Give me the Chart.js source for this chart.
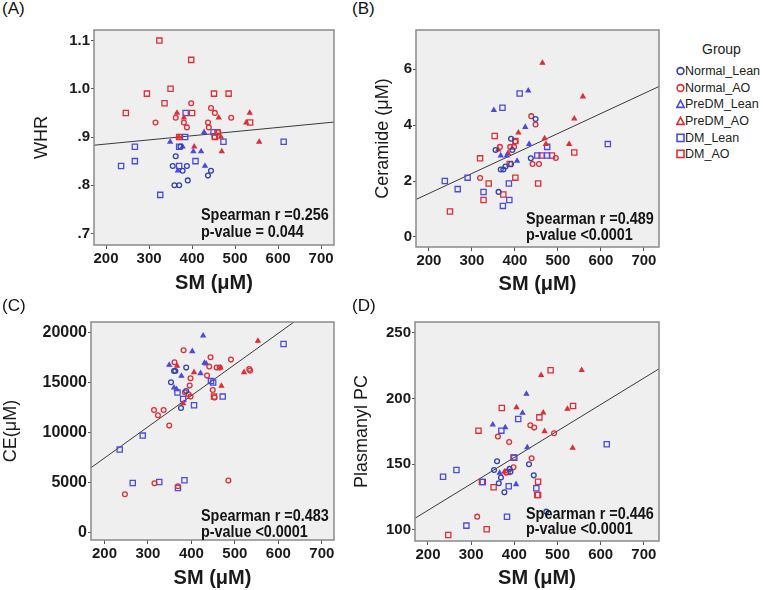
<!DOCTYPE html>
<html>
<head>
<meta charset="utf-8">
<script src="https://cdn.jsdelivr.net/npm/chart.js@4.4.1/dist/chart.umd.min.js"></script>
<style>
  body { margin: 0; background: #fff; font-family: "Liberation Sans", Arial, sans-serif; }
  #wrap { position: relative; width: 763px; height: 590px; overflow: hidden; }
  canvas { position: absolute; }
  .tag { position: absolute; font-size: 17px; color: #111; z-index: 2; }
  #legend { position: absolute; left: 676px; top: 41px; font-size: 12.5px; color: #222; }
  #legend .ttl { margin-left: 26px; margin-bottom: 6px; font-size: 14px; }
  #legend .row { height: 16.6px; display: flex; align-items: center; white-space: nowrap; }
</style>
</head>
<body>
<div id="wrap">
  <div class="tag" style="left:2px;top:-1px">(A)</div>
  <div class="tag" style="left:352px;top:-1px">(B)</div>
  <div class="tag" style="left:2px;top:296px">(C)</div>
  <div class="tag" style="left:352px;top:296px">(D)</div>
  <canvas id="cA" width="340" height="280" style="left:0;top:20px"></canvas>
  <canvas id="cB" width="330" height="280" style="left:340px;top:20px"></canvas>
  <canvas id="cC" width="340" height="285" style="left:0;top:305px"></canvas>
  <canvas id="cD" width="330" height="285" style="left:340px;top:305px"></canvas>
  <div id="legend"></div>
</div>
<script>
'use strict';

// ─── data ─────────────────────────────────────────────
const groupNames = ['Normal_Lean', 'Normal_AO', 'PreDM_Lean', 'PreDM_AO', 'DM_Lean', 'DM_AO'];
const xTicks = [200, 300, 400, 500, 600, 700];

// (A) WHR
const a_normalLean = [[373,0.88],[362,0.86],[355,0.84],[388,0.84],[378,0.83],[444,0.83],[437,0.82],[359,0.80],[370,0.80],[390,0.81]];
const a_normalAO = [[398,0.97],[315,0.93],[362,0.94],[381,0.93],[388,0.92],[444,0.96],[453,0.95],[437,0.93],[439,0.92],[491,0.94],[461,0.91],[452,0.90]];
const a_preLean = [[428,0.91],[349,0.89],[378,0.88],[403,0.87],[421,0.87],[430,0.84],[367,0.83]];
const a_preAO = [[365,0.95],[381,0.94],[462,0.94],[534,0.95],[526,0.93],[556,0.89],[405,0.88],[469,0.87],[467,0.90],[369,0.90]];
const a_dmLean = [[385,0.95],[267,0.88],[235,0.84],[267,0.85],[326,0.78],[370,0.88],[384,0.90],[370,0.84],[408,0.85],[473,0.89],[613,0.89],[450,0.91]];
const a_dmAO = [[324,1.10],[398,1.06],[295,0.99],[350,1.00],[336,0.97],[246,0.95],[400,0.95],[451,0.99],[485,0.99],[535,0.93],[459,0.91],[453,0.90],[370,0.90]];
const a_fit = [[172,0.883],[730,0.931]];
const a_ticks = [0.7, 0.8, 0.9, 1.0, 1.1];

// (B) Ceramide
const b_normalLean = [[448,4.22],[391,3.51],[355,3.11],[367,2.41],[373,2.41],[378,2.52],[391,2.61],[437,2.81],[362,1.61],[394,3.11]];
const b_normalAO = [[438,4.32],[448,4.02],[365,3.22],[389,3.22],[401,3.41],[398,3.22],[319,2.11],[441,2.61],[456,2.61],[495,2.82]];
const b_preLean = [[431,5.23],[351,4.53],[424,3.93],[433,3.32],[405,2.72],[367,2.91],[381,2.91]];
const b_preAO = [[464,6.22],[558,5.02],[538,4.23],[526,3.32],[469,3.52],[408,3.73],[472,3.32],[361,3.12],[384,3.0]];
const b_dmLean = [[411,5.13],[371,4.62],[237,2.0],[267,1.71],[290,2.12],[327,1.61],[386,1.91],[387,1.32],[372,1.11],[475,2.91],[475,3.22],[616,3.32],[452,2.91]];
const b_dmAO = [[353,3.61],[319,2.81],[339,1.91],[327,1.32],[249,0.91],[373,1.52],[401,2.12],[401,3.43],[454,1.91],[462,2.91],[486,2.91],[538,3.02],[388,2.61]];
const b_fit = [[170,1.34],[735,5.38]];
const b_ticks = [0, 2, 4, 6];

// (C) CE
const c_normalLean = [[360,16130],[363,16130],[388,16470],[353,15000],[388,14130],[376,12430]];
const c_normalAO = [[382,18200],[444,17500],[491,17270],[361,17000],[441,16570],[458,16470],[465,16470],[398,15400],[436,15670],[533,16330],[535,16170],[396,14670],[385,14000],[393,13800],[449,14230],[398,13570],[453,13470],[314,12230],[336,12230],[323,11700],[349,10670],[315,4900],[369,4600],[485,5170],[247,3800]];
const c_preLean = [[427,19670],[402,18100],[349,16730],[430,16930],[434,16870],[421,15900],[377,15630],[360,14470],[366,14300]];
const c_preAO = [[553,19130],[367,16630],[406,16000],[467,16470],[521,16000],[469,14630],[381,12900]];
const c_dmLean = [[612,18830],[445,15130],[450,14970],[368,13970],[381,13330],[472,13570],[406,12700],[288,9670],[235,8270],[265,4930],[326,5030],[384,5200],[369,4430]];
const c_dmAO = [[452,13570]];
const c_fit = [[169,6460],[728,23900]];
const c_ticks = [0, 5000, 10000, 15000, 20000];

// (D) Plasmanyl PC
const d_normalLean = [[360,152.2],[353,145.6],[389,146.4],[391,144.3],[434,149.9],[369,139.8],[445,141.5],[364,135.5],[377,128.6],[474,113.9]];
const d_normalAO = [[437,179.6],[446,177.8],[492,173.5],[362,171],[388,166.9],[440,154.5],[398,147.6],[381,143.6],[314,110.1]];
const d_preLean = [[428,203.4],[419,188.9],[350,180.1],[379,178.0],[430,162.8],[366,143.3],[404,134.7]];
const d_preAO = [[556,221.4],[462,217.6],[405,193.2],[523,192],[467,189.2],[470,175],[535,162.3],[377,144.3]];
const d_dmLean = [[409,184.4],[370,175.5],[614,165.1],[400,155],[266,145.6],[235,140.5],[327,136.5],[387,133.2],[451,131.7],[383,110.1],[289,103.3]];
const d_dmAO = [[484,221.4],[536,194.2],[371,192.7],[458,185.6],[317,175.5],[398,155],[384,144.1],[455,136.7],[325,136.5],[352,132.4],[453,126.6],[455,126.6],[336,100.5],[247,96.2]];
const d_fit = [[170,108.9],[735,222.5]];
const d_ticks = [100, 150, 200, 250];

const statsA = ['Spearman r =0.256', 'p-value = 0.044'];
const statsB = ['Spearman r =0.489', 'p-value <0.0001'];
const statsC = ['Spearman r =0.483', 'p-value <0.0001'];
const statsD = ['Spearman r =0.446', 'p-value <0.0001'];

// ─── styles ───────────────────────────────────────────
const BLUE = '#4b4be3', NAVY = '#3143ad', RED = '#dd3036';
const groupStyle = [
  { shape: 'circle',   color: NAVY, r: 2.4 },
  { shape: 'circle',   color: RED,  r: 2.4 },
  { shape: 'triangle', color: BLUE, r: 2.4 },
  { shape: 'triangle', color: RED,  r: 2.4 },
  { shape: 'rect',     color: BLUE, r: 3.7 },
  { shape: 'rect',     color: RED,  r: 3.7 },
];

Chart.defaults.font.family = '"Liberation Sans", Arial, sans-serif';

// grey plot area, frame and the Spearman note
const frame = {
  id: 'frame',
  beforeDraw(chart) {
    const { ctx, chartArea: a } = chart;
    ctx.save();
    ctx.fillStyle = '#efefef';
    ctx.fillRect(a.left, a.top, a.width, a.height);
    ctx.restore();
  },
  afterDraw(chart, args, opts) {
    const { ctx, chartArea: a } = chart;
    ctx.save();
    ctx.strokeStyle = '#8a8a8a';
    ctx.lineWidth = 1.5;
    ctx.strokeRect(a.left, a.top, a.width, a.height);
    ctx.fillStyle = '#141414';
    ctx.font = 'bold 16px "Liberation Sans", Arial, sans-serif';
    ctx.textBaseline = 'middle';
    ctx.translate(a.right - 133, 0);
    ctx.scale(0.9, 1);
    opts.lines.forEach((t, i) => ctx.fillText(t, 0, a.bottom - opts.dy[i]));
    ctx.restore();
  }
};
Chart.register(frame);

const toXY = (pts) => pts.map(([x, y]) => ({ x, y }));

function makePanel(id, p) {
  const sets = p.groups.map((pts, i) => {
    const st = groupStyle[i];
    return {
      type: 'scatter',
      label: groupNames[i],
      data: toXY(pts),
      pointStyle: st.shape,
      pointRadius: st.r,
      borderColor: st.color,
      backgroundColor: st.shape === 'triangle' ? st.color : 'rgba(0,0,0,0)',
      borderWidth: 1.3,
    };
  });
  sets.push({
    type: 'line', data: toXY(p.fit), borderColor: '#3a3a3a', borderWidth: 1,
    pointRadius: 0, fill: false, order: 1,
  });

  return new Chart(document.getElementById(id), {
    type: 'scatter',
    data: { datasets: sets },
    options: {
      responsive: false,
      animation: false,
      layout: { padding: p.pad },
      plugins: {
        legend: { display: false },
        tooltip: { enabled: false },
        frame: { lines: p.stats, dy: p.statsDy },
      },
      scales: {
        x: {
          type: 'linear', min: p.xMin, max: p.xMax, bounds: 'data',
          afterBuildTicks: s => { s.ticks = xTicks.map(v => ({ value: v })); },
          afterFit: s => { s.height = p.xh; },
          grid: { drawOnChartArea: false, tickLength: 4, color: '#555' },
          border: { display: false },
          ticks: { font: { size: 15, weight: 'bold' }, color: '#1a1a1a', padding: 1, maxRotation: 0 },
          title: { display: true, text: 'SM (μM)', font: { size: 20, weight: 'bold' }, color: '#1a1a1a',
                   padding: { top: 0, bottom: p.xtPad } },
        },
        y: {
          type: 'linear', min: p.yMin, max: p.yMax, bounds: 'data',
          afterBuildTicks: s => { s.ticks = p.yTicks.map(v => ({ value: v })); },
          afterFit: s => { s.width = p.yw; },
          grid: { drawOnChartArea: false, tickLength: 3, color: '#555' },
          border: { display: false },
          ticks: { font: { size: p.ytSize || 15, weight: 'bold' }, color: '#1a1a1a', padding: 1,
                   callback: p.yFmt || (v => v) },
          title: { display: true, text: p.yTitle, font: { size: 18 }, color: '#1a1a1a',
                   padding: { top: p.ytPad, bottom: 0 } },
        },
      },
    },
  });
}

makePanel('cA', {
  groups: [a_normalLean, a_normalAO, a_preLean, a_preAO, a_dmLean, a_dmAO], fit: a_fit,
  xMin: 172, xMax: 730, yMin: 0.676, yMax: 1.122, yTicks: a_ticks,
  yFmt: v => v >= 1 ? v.toFixed(1) : v.toFixed(1).slice(1),
  yTitle: 'WHR', ytPad: 31, yw: 94, xh: 55, xtPad: 5,
  pad: { top: 5, right: 6, left: 0, bottom: 0 },
  stats: statsA, statsDy: [29, 12],
});

makePanel('cB', {
  groups: [b_normalLean, b_normalAO, b_preLean, b_preAO, b_dmLean, b_dmAO], fit: b_fit,
  xMin: 170, xMax: 735, yMin: -0.36, yMax: 7.4, yTicks: b_ticks,
  yTitle: 'Ceramide (μM)', ytPad: 32, yw: 76, xh: 53, xtPad: 4,
  pad: { top: 5, right: 11, left: 0, bottom: 0 },
  stats: statsB, statsDy: [27, 11],
});

makePanel('cC', {
  groups: [c_normalLean, c_normalAO, c_preLean, c_preAO, c_dmLean, c_dmAO], fit: c_fit,
  xMin: 169, xMax: 728, yMin: -770, yMax: 21030, yTicks: c_ticks, ytSize: 16,
  yTitle: 'CE(μM)', ytPad: 0, yw: 91, xh: 50, xtPad: 0,
  pad: { top: 17, right: 6, left: 0, bottom: 0 },
  stats: statsC, statsDy: [23, 7],
});

makePanel('cD', {
  groups: [d_normalLean, d_normalAO, d_preLean, d_preAO, d_dmLean, d_dmAO], fit: d_fit,
  xMin: 170, xMax: 735, yMin: 91.6, yMax: 258.1, yTicks: d_ticks,
  yTitle: 'Plasmanyl PC', ytPad: 11, yw: 75, xh: 49, xtPad: 0,
  pad: { top: 17, right: 11, left: 0, bottom: 0 },
  stats: statsD, statsDy: [26, 11],
});

// ─── legend ───────────────────────────────────────────
function markerSvg(st) {
  let shape;
  if (st.shape === 'circle') shape = '<circle cx="4.5" cy="5" r="3.4" fill="none" stroke="' + st.color + '" stroke-width="1.6"/>';
  else if (st.shape === 'triangle') shape = '<polygon points="4.5,1.4 8.2,8.4 0.8,8.4" fill="none" stroke="' + st.color + '" stroke-width="1.6"/>';
  else shape = '<rect x="1" y="1.3" width="7" height="7.2" fill="none" stroke="' + st.color + '" stroke-width="1.6"/>';
  return '<svg width="9" height="10">' + shape + '</svg>';
}
document.getElementById('legend').innerHTML =
  '<div class="ttl">Group</div>' +
  groupNames.map((g, i) => '<div class="row">' + markerSvg(groupStyle[i]) + '<span>' + g + '</span></div>').join('');
</script>
</body>
</html>
